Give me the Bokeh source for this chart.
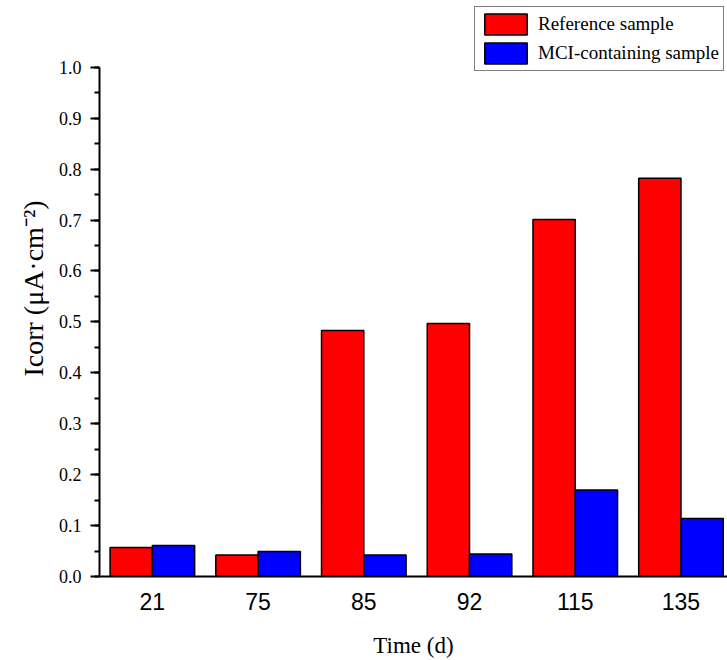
from bokeh.plotting import figure
from bokeh.models import ColumnDataSource, FixedTicker, Legend, LegendItem, Range1d
from bokeh.transform import dodge
from bokeh.embed import file_html
from bokeh.resources import INLINE

times = ["21", "75", "85", "92", "115", "135"]
reference = [0.057, 0.042, 0.483, 0.497, 0.701, 0.782]
mci = [0.061, 0.049, 0.042, 0.044, 0.170, 0.114]

idx = list(range(len(times)))
src = ColumnDataSource(dict(x=idx, ref=reference, mci=mci))

p = figure(width=727, height=660, output_backend="svg", toolbar_location=None,
           x_range=Range1d(-0.5, 5.44), y_range=Range1d(0, 1.131),
           min_border_left=99, min_border_right=0, min_border_top=0, min_border_bottom=82)
p.background_fill_color = "white"
p.border_fill_color = "white"
p.outline_line_color = None
p.xgrid.grid_line_color = None
p.ygrid.grid_line_color = None

r1 = p.vbar(x=dodge("x", -0.2, range=p.x_range), top="ref", width=0.4, bottom=0, source=src,
            fill_color="#FF0000", line_color="black", line_width=1.5)
r2 = p.vbar(x=dodge("x", 0.2, range=p.x_range), top="mci", width=0.4, bottom=0, source=src,
            fill_color="#0000FF", line_color="black", line_width=1.5)

# x axis
p.xaxis.ticker = FixedTicker(ticks=idx)
p.xaxis.major_label_overrides = {i: t for i, t in zip(idx, times)}
p.xaxis.major_tick_line_color = None
p.xaxis.minor_tick_line_color = None
p.xaxis.axis_line_width = 2
p.xaxis.axis_line_color = "black"
p.xaxis.major_label_text_font = "Liberation Sans"
p.xaxis.major_label_text_font_size = "23px"
p.xaxis.major_label_text_color = "black"
p.xaxis.major_label_standoff = 10
p.xaxis.axis_label = "Time (d)"
p.xaxis.axis_label_text_font = "Liberation Serif"
p.xaxis.axis_label_text_font_style = "normal"
p.xaxis.axis_label_text_font_size = "23px"
p.xaxis.axis_label_text_color = "black"
p.xaxis.axis_label_standoff = 20

# y axis
p.yaxis.bounds = (0, 1.0)
p.yaxis.ticker = FixedTicker(ticks=[i / 10 for i in range(11)],
                             minor_ticks=[i / 20 for i in range(21)])
p.yaxis.major_label_overrides = {i / 10: f"{i/10:.1f}" for i in range(11)}
p.yaxis.axis_line_width = 2
p.yaxis.axis_line_color = "black"
p.yaxis.major_tick_line_width = 2
p.yaxis.minor_tick_line_width = 2
p.yaxis.major_tick_in = 0
p.yaxis.major_tick_out = 9
p.yaxis.minor_tick_in = 0
p.yaxis.minor_tick_out = 5
p.yaxis.major_label_text_font = "Liberation Serif"
p.yaxis.major_label_text_font_size = "18px"
p.yaxis.major_label_text_color = "black"
p.yaxis.major_label_standoff = 9
p.yaxis.axis_label = "Icorr (μA·cm⁻²)"
p.yaxis.axis_label_text_font = "Liberation Serif"
p.yaxis.axis_label_text_font_style = "normal"
p.yaxis.axis_label_text_font_size = "28px"
p.yaxis.axis_label_text_color = "black"
p.yaxis.axis_label_standoff = 7

legend = Legend(items=[LegendItem(label="Reference sample", renderers=[r1]),
                       LegendItem(label="MCI-containing sample", renderers=[r2])],
                location=(375, 505))
legend.border_line_color = "black"
legend.border_line_width = 1
legend.background_fill_color = "white"
legend.background_fill_alpha = 1
legend.glyph_width = 53
legend.glyph_height = 26
legend.label_height = 26
legend.label_text_font = "Liberation Serif"
legend.label_text_font_size = "19px"
legend.label_text_color = "black"
legend.label_standoff = 6
legend.padding = 4
legend.spacing = 3
legend.margin = 0
p.add_layout(legend, "center")

open("out.html", "w").write(file_html(p, INLINE))
